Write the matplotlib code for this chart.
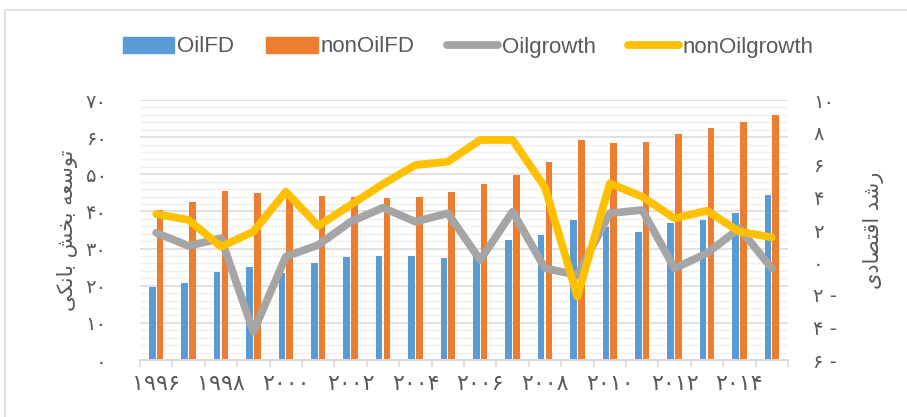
import numpy as np
import matplotlib
matplotlib.use('Agg')
import matplotlib.pyplot as plt
from matplotlib.patches import Patch, Rectangle
from matplotlib.lines import Line2D

years = list(range(1996, 2016))
oil_fd = [19.7, 20.6, 23.6, 25.1, 23.5, 26.1, 27.7, 28.0, 27.9, 27.5,
          28.3, 32.2, 33.6, 37.6, 35.8, 34.4, 36.8, 37.6, 39.7, 44.4]
nonoil_fd = [40.4, 42.6, 45.4, 44.9, 44.0, 44.1, 43.8, 43.6, 43.8, 45.2,
             47.4, 49.8, 53.2, 59.1, 58.4, 58.7, 60.8, 62.5, 64.0, 66.0]
oil_growth = [1.83, 1.02, 1.49, -4.26, 0.36, 1.08, 2.51, 3.37, 2.51, 3.03,
              0.15, 3.13, -0.36, -0.77, 3.03, 3.23, -0.36, 0.57, 2.10, -0.36]
nonoil_growth = [2.98, 2.62, 0.97, 1.9, 4.36, 2.25, 3.54, 4.83, 6.0, 6.2,
                 7.54, 7.54, 4.62, -2.1, 4.87, 4.05, 2.72, 3.19, 1.9, 1.55]
series_names = ['OilFD', 'nonOilFD', 'Oilgrowth', 'nonOilgrowth']
left_title = 'توسعه بخش بانکی'
right_title = 'رشد اقتصادی'

BLUE = '#5B9BD5'
ORANGE = '#ED7D31'
GREY = '#A5A5A5'
YELLOW = '#FFC000'
TXT = '#595959'

FA_DIGITS = str.maketrans('0123456789', '۰۱۲۳۴۵۶۷۸۹')


def fa(n):
    return str(n).translate(FA_DIGITS)


# presentation forms: isolated, final, initial, medial
FORMS = {
    'ا': (0xFE8D, 0xFE8E, None, None),
    'ب': (0xFE8F, 0xFE90, 0xFE91, 0xFE92),
    'ت': (0xFE95, 0xFE96, 0xFE97, 0xFE98),
    'خ': (0xFEA5, 0xFEA6, 0xFEA7, 0xFEA8),
    'د': (0xFEA9, 0xFEAA, None, None),
    'ر': (0xFEAD, 0xFEAE, None, None),
    'س': (0xFEB1, 0xFEB2, 0xFEB3, 0xFEB4),
    'ش': (0xFEB5, 0xFEB6, 0xFEB7, 0xFEB8),
    'ص': (0xFEB9, 0xFEBA, 0xFEBB, 0xFEBC),
    'ع': (0xFEC9, 0xFECA, 0xFECB, 0xFECC),
    'ق': (0xFED5, 0xFED6, 0xFED7, 0xFED8),
    'ن': (0xFEE5, 0xFEE6, 0xFEE7, 0xFEE8),
    'ه': (0xFEE9, 0xFEEA, 0xFEEB, 0xFEEC),
    'و': (0xFEED, 0xFEEE, None, None),
    'ک': (0xFB8E, 0xFB8F, 0xFB90, 0xFB91),
    'ی': (0xFBFC, 0xFBFD, 0xFBFE, 0xFBFF),
}


def shape(text):
    # crude persian shaping, matplotlib has none
    out = []
    for i, ch in enumerate(text):
        if ch not in FORMS:
            out.append(ch)
            continue
        prev = text[i - 1] if i > 0 else ''
        nxt = text[i + 1] if i + 1 < len(text) else ''
        iso, fin, ini, med = FORMS[ch]
        jp = prev in FORMS and FORMS[prev][2] is not None
        jn = ini is not None and nxt in FORMS
        if jp and jn:
            c = med
        elif jp:
            c = fin
        elif jn:
            c = ini
        else:
            c = iso
        out.append(chr(c))
    return ''.join(reversed(out))


plt.rcParams['font.family'] = ['DejaVu Sans']

fig = plt.figure(figsize=(9.07, 4.17), dpi=100)
ax = fig.add_axes([140 / 907, 57 / 417, 648 / 907, 260 / 417])
ax2 = ax.twinx()

x = np.arange(len(years))
ax.bar(x - 0.12, oil_fd, 0.2, color=BLUE, zorder=2)
ax.bar(x + 0.12, nonoil_fd, 0.2, color=ORANGE, zorder=2)
ax.set_xlim(-0.5, len(years) - 0.5)
ax.set_ylim(0, 70)

line_kw = dict(lw=5.6, solid_joinstyle='round', solid_capstyle='round')
ax2.plot(x, oil_growth, color=GREY, **line_kw)
ax2.plot(x, nonoil_growth, color=YELLOW, **line_kw)
ax2.set_ylim(-6, 10)

# grid
ax.set_yticks(np.arange(0, 71, 10))
ax.set_yticks(np.arange(0, 71, 2), minor=True)
ax.set_axisbelow(True)
ax.grid(axis='y', which='major', color='#d9d9d9', lw=1.1)
ax.grid(axis='y', which='minor', color='#f0f0f0', lw=1.0)
ax.set_yticklabels([fa(v) for v in range(0, 71, 10)])
ax.tick_params(axis='y', which='both', length=0, pad=24, labelsize=14, labelcolor=TXT)

ax.set_xticks(x[::2])
ax.set_xticklabels([fa(y) for y in years[::2]])
ax.set_xticks(np.arange(-0.5, len(years), 1), minor=True)
ax.tick_params(axis='x', which='major', length=0, pad=10, labelsize=16, labelcolor=TXT)
ax.tick_params(axis='x', which='minor', length=5, width=1.2, color='#d9d9d9')

r_ticks = list(range(-6, 11, 2))
ax2.set_yticks(r_ticks)
ax2.set_yticklabels([fa(abs(v)) + (' -' if v < 0 else '') for v in r_ticks])
ax2.tick_params(axis='y', length=0, pad=18, labelsize=14, labelcolor=TXT)

for a in (ax, ax2):
    for s in ('top', 'left', 'right', 'bottom'):
        a.spines[s].set_visible(False)
ax.spines['bottom'].set_visible(True)
ax.spines['bottom'].set_color('#d9d9d9')
ax.spines['bottom'].set_linewidth(1.4)

fig.text(68 / 907, 1 - 230 / 417, shape(left_title), rotation=90, ha='center', va='center',
         fontsize=15, color=TXT)
fig.text(873 / 907, 1 - 230 / 417, shape(right_title), rotation=90, ha='center', va='center',
         fontsize=15, color=TXT)

handles = [Patch(color=BLUE), Patch(color=ORANGE),
           Line2D([], [], color=GREY, lw=5.6, solid_capstyle='round'),
           Line2D([], [], color=YELLOW, lw=5.6, solid_capstyle='round')]
fig.legend(handles, series_names, loc='center', bbox_to_anchor=(468 / 907, 1 - 47 / 417),
           ncol=4, frameon=False, prop={'family': 'Liberation Sans', 'size': 16},
           handlelength=2.3, handletextpad=0.15, columnspacing=1.45, labelcolor=TXT)

fig.add_artist(Rectangle((5 / 907, -0.5), 2, 0.5 + 1 - 10 / 417, transform=fig.transFigure,
                         fill=False, edgecolor='#d9d9d9', lw=1.2))

fig.savefig('out.png', dpi=100)
